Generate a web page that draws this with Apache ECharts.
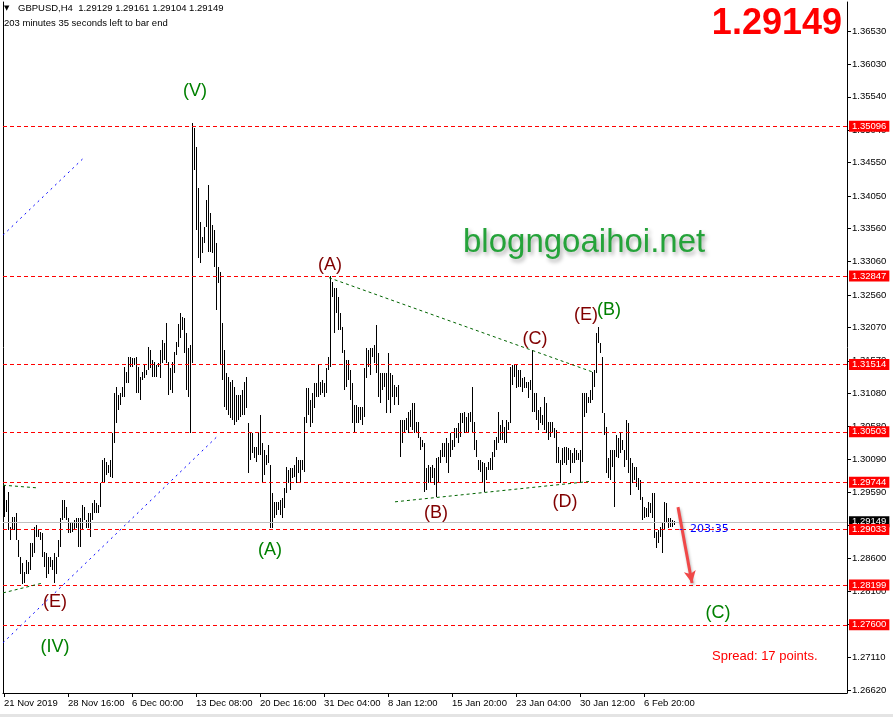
<!DOCTYPE html>
<html><head><meta charset="utf-8">
<script src="https://cdn.jsdelivr.net/npm/echarts@6/dist/echarts.min.js"></script>
<style>html,body{margin:0;padding:0;background:#fff}#c{width:893px;height:717px}</style>
</head><body><div id="c"></div>
<script>
// ---- data (GBPUSD H4) ----
const highs = [
1.2970,1.2948,1.2960,1.2907,1.2922,1.2922,1.2928,1.2888,1.2862,1.2853,
1.2839,1.2858,1.2855,1.2883,1.2883,1.2907,1.2910,1.2903,1.2900,1.2898,
1.2870,1.2868,1.2862,1.2862,1.2858,1.2868,1.2862,1.2888,1.2921,1.2948,
1.2948,1.2937,1.2921,1.2915,1.2913,1.2918,1.2921,1.2921,1.2921,1.2940,
1.2937,1.2918,1.2928,1.2928,1.2943,1.2948,1.2943,1.2940,1.2973,1.3008,
1.3011,1.3005,1.3000,1.3008,1.3049,1.3109,1.3118,1.3106,1.3109,1.3118,
1.3148,1.3140,1.3163,1.3163,1.3161,1.3161,1.3163,1.3148,1.3133,1.3140,
1.3151,1.3143,1.3178,1.3173,1.3158,1.3155,1.3151,1.3154,1.3173,1.3188,
1.3184,1.3214,1.3155,1.3146,1.3155,1.3170,1.3185,1.3212,1.3229,1.3223,
1.3222,1.3199,1.3176,1.3181,1.3515,1.3507,1.3479,1.3417,1.3366,1.3343,
1.3358,1.3399,1.3421,1.3379,1.3361,1.3354,1.3334,1.3298,1.3291,1.3214,
1.3173,1.3139,1.3133,1.3125,1.3128,1.3118,1.3106,1.3106,1.3106,1.3113,
1.3125,1.3133,1.3064,1.3049,1.3049,1.3027,1.3027,1.3050,1.3076,1.3033,
1.3023,1.3015,1.3030,1.3000,1.2958,1.2945,1.2945,1.2945,1.2948,1.2951,
1.2966,1.2997,1.2993,1.2996,1.2996,1.3000,1.3012,1.3008,1.3008,1.3008,
1.3073,1.3116,1.3116,1.3098,1.3109,1.3124,1.3124,1.3151,1.3125,1.3128,
1.3124,1.3146,1.3163,1.3284,1.3276,1.3267,1.3267,1.3253,1.3229,1.3208,
1.3173,1.3158,1.3158,1.3143,1.3124,1.3091,1.3091,1.3088,1.3088,1.3088,
1.3146,1.3176,1.3173,1.3176,1.3176,1.3181,1.3211,1.3169,1.3139,1.3139,
1.3139,1.3139,1.3169,1.3139,1.3136,1.3121,1.3118,1.3121,1.3068,1.3068,
1.3068,1.3071,1.3080,1.3083,1.3094,1.3094,1.3065,1.3065,1.3043,1.3038,
1.3033,1.2996,1.3000,1.2997,1.3000,1.2996,1.3011,1.3012,1.3023,1.3033,
1.3033,1.3041,1.3033,1.3049,1.3038,1.3056,1.3056,1.3064,1.3079,1.3079,
1.3080,1.3073,1.3079,1.3080,1.3118,1.3065,1.3038,1.3008,1.3008,1.3005,
1.3003,1.2997,1.3005,1.3011,1.3020,1.3038,1.3043,1.3080,1.3061,1.3068,
1.3058,1.3068,1.3065,1.3148,1.3151,1.3151,1.3151,1.3143,1.3143,1.3131,
1.3133,1.3125,1.3125,1.3128,1.3173,1.3109,1.3109,1.3083,1.3088,1.3076,
1.3103,1.3094,1.3065,1.3065,1.3065,1.3056,1.3053,1.3027,1.3008,1.3026,
1.3027,1.3027,1.3026,1.3023,1.3018,1.3026,1.3023,1.3018,1.3023,1.3109,
1.3109,1.3109,1.3103,1.3113,1.3140,1.3143,1.3199,1.3208,1.3184,1.3163,
1.3079,1.3058,1.3011,1.3023,1.3023,1.3023,1.3046,1.3041,1.3049,1.3038,
1.3023,1.3068,1.3064,1.3011,1.3003,1.2997,1.2997,1.2981,1.2978,1.2952,
1.2937,1.2936,1.2945,1.2943,1.2958,1.2958,1.2900,1.2903,1.2907,1.2913,
1.2945,1.2943,1.2921,1.2921,1.2918,1.29161];
const lows = [
1.2922,1.2930,1.2903,1.2888,1.2903,1.2903,1.2888,1.2862,1.2837,1.2822,
1.2823,1.2837,1.2837,1.2842,1.2862,1.2868,1.2892,1.2892,1.2888,1.2862,
1.2847,1.2831,1.2837,1.2847,1.2842,1.2823,1.2837,1.2862,1.2877,1.2918,
1.2921,1.2918,1.2898,1.2898,1.2900,1.2903,1.2905,1.2877,1.2877,1.2903,
1.2918,1.2905,1.2905,1.2892,1.2918,1.2928,1.2928,1.2928,1.2937,1.2973,
1.2973,1.2985,1.2988,1.2982,1.2981,1.3033,1.3064,1.3083,1.3091,1.3103,
1.3103,1.3124,1.3124,1.3148,1.3148,1.3151,1.3109,1.3109,1.3098,1.3128,
1.3131,1.3136,1.3143,1.3146,1.3133,1.3133,1.3133,1.3148,1.3131,1.3154,
1.3158,1.3154,1.3106,1.3113,1.3109,1.3139,1.3166,1.3178,1.3191,1.3203,
1.3169,1.3113,1.3103,1.3049,1.3154,1.3444,1.3354,1.3312,1.3304,1.3319,
1.3334,1.3358,1.3321,1.3321,1.3319,1.3298,1.3234,1.3274,1.3151,1.3128,
1.3088,1.3083,1.3076,1.3071,1.3068,1.3061,1.3065,1.3068,1.3073,1.3076,
1.3076,1.3086,1.2988,1.3008,1.3018,1.3011,1.3005,1.3015,1.3015,1.2975,
1.2985,1.3000,1.3003,1.2905,1.2905,1.2921,1.2925,1.2933,1.2925,1.2921,
1.2936,1.2958,1.2973,1.2963,1.2981,1.2982,1.2973,1.2988,1.2973,1.2993,
1.2990,1.3064,1.3076,1.3058,1.3064,1.3086,1.3103,1.3103,1.3106,1.3109,
1.3103,1.3109,1.3143,1.3148,1.3253,1.3199,1.3229,1.3203,1.3203,1.3169,
1.3113,1.3118,1.3128,1.3098,1.3064,1.3050,1.3064,1.3064,1.3068,1.3061,
1.3073,1.3131,1.3148,1.3136,1.3163,1.3154,1.3139,1.3103,1.3094,1.3113,
1.3118,1.3079,1.3098,1.3079,1.3103,1.3091,1.3103,1.3091,1.3012,1.3033,
1.3050,1.3053,1.3049,1.3058,1.3053,1.3049,1.3049,1.3041,1.3023,1.3027,
1.2960,1.2963,1.2973,1.2973,1.2981,1.2970,1.2952,1.2973,1.3003,1.3012,
1.3012,1.3003,1.2988,1.3012,1.3023,1.3027,1.3041,1.3033,1.3043,1.3064,
1.3049,1.3049,1.3049,1.3065,1.3049,1.3023,1.3012,1.2993,1.2990,1.2973,
1.2960,1.2978,1.2993,1.2993,1.2993,1.3012,1.3023,1.3033,1.3038,1.3038,
1.3033,1.3033,1.3053,1.3064,1.3121,1.3133,1.3116,1.3118,1.3118,1.3110,
1.3116,1.3116,1.3101,1.3113,1.3080,1.3080,1.3068,1.3053,1.3064,1.3061,
1.3053,1.3049,1.3038,1.3043,1.3049,1.3041,1.3003,1.3003,1.2973,1.3000,
1.3003,1.3000,1.3008,1.2988,1.3003,1.3003,1.3008,1.3008,1.2975,1.3005,
1.3073,1.3079,1.3094,1.3094,1.3098,1.3118,1.3139,1.3184,1.3169,1.3079,
1.3046,1.2988,1.2981,1.2978,1.2997,1.2937,1.3012,1.3011,1.3018,1.3023,
1.2997,1.3008,1.2988,1.2955,1.2973,1.2978,1.2967,1.2963,1.2948,1.2918,
1.2921,1.2922,1.2922,1.2928,1.2921,1.2891,1.2875,1.2883,1.2892,1.2868,
1.2903,1.2913,1.2905,1.2907,1.2907,1.29104];
const dateLabels = ['21 Nov 2019','28 Nov 16:00','6 Dec 00:00','13 Dec 08:00','20 Dec 16:00',
  '31 Dec 04:00','8 Jan 12:00','15 Jan 20:00','23 Jan 04:00','30 Jan 12:00','6 Feb 20:00'];
const barsPerDateLabel = 32;
const priceTicks = [1.2662,1.2711,1.2761,1.2810,1.2860,1.2910,1.2959,1.3009,1.3058,1.3108,
  1.3157,1.3207,1.3256,1.3306,1.3356,1.3405,1.3455,1.3504,1.3554,1.3603,1.3653];
const levels = [1.35096,1.32847,1.31514,1.30503,1.29744,1.29033,1.28199,1.27600];
const currentBar = [1.29129,1.29161,1.29104,1.29149]; // O H L C
const symbolName = 'GBPUSD,H4';
const timerText = '203:35';
const spreadPoints = 17;

// annotation anchors (bar index, price)
const waveLabels = [
  ['(V)',95.5,1.3563,'g'],['(A)',163,1.3301,'r'],['(C)',265.5,1.3190,'r'],
  ['(E)',291,1.3226,'r'],['(B)',302.5,1.3233,'g'],['(B)',216,1.2928,'r'],
  ['(D)',280.5,1.2945,'r'],['(A)',133,1.2872,'g'],['(E)',25.5,1.2794,'r'],
  ['(IV)',25.5,1.2727,'g'],['(C)',357,1.2778,'g']];
const trendLines = [
  {a:[162.5,1.3282],b:[294.5,1.3140],kind:'green'},
  {a:[195.5,1.2945],b:[294,1.2976],kind:'green'},
  {a:[-0.5,1.2970],b:[16.5,1.2966],kind:'green'},
  {a:[-0.5,1.2808],b:[19.5,1.2823],kind:'green'},
  {a:[-0.5,1.3346],b:[40.5,1.3464],kind:'blue'},
  {a:[-0.5,1.2733],b:[106.5,1.3043],kind:'blue'},
  {a:[337,1.2937],b:[344,1.2823],kind:'arrow'}];

// ---- chart ----
const yMin = 1.26575, yMax = 1.36966;
const FONT = '"Liberation Sans","DejaVu Sans",Arial,sans-serif';
const tickIdx = dateLabels.map((_, k) => k * barsPerDateLabel);
const barData = highs.map((h, i) => [i, lows[i], h]);

const ml = [];
ml.push({yAxis: currentBar[3], lineStyle:{color:'#c0c0c0', type:'solid', width:1},
  label:{show:true, position:'end', distance:2, formatter: currentBar[3].toFixed(5),
    backgroundColor:'#000', color:'#fff', padding:[1,3,0,3], fontSize:9.5, fontFamily:FONT}});
levels.forEach(v => ml.push({yAxis: v, lineStyle:{color:'#ff0000', type:[4,3], width:1},
  label:{show:true, position:'end', distance:2, formatter: v.toFixed(5),
    backgroundColor:'#ff0000', color:'#fff', padding:[1,3,0,3], fontSize:9.5, fontFamily:FONT}}));
trendLines.forEach(t => {
  let ls;
  if (t.kind === 'green') ls = {color:'#006400', type:[3,3], width:1};
  else if (t.kind === 'blue') ls = {color:'#0000ff', type:[2,4], width:1};
  else ls = {color:'#f04848', type:'solid', width:3, shadowBlur:3, shadowColor:'rgba(0,0,0,0.3)', shadowOffsetX:1, shadowOffsetY:2};
  ml.push([
    {coord:t.a, symbol:'none', lineStyle:ls, label:{show:false}},
    {coord:t.b, symbol: t.kind === 'arrow' ? 'arrow' : 'none', symbolSize:[9,12]}
  ]);
});

const chart = echarts.init(document.getElementById('c'), null, {renderer:'canvas'});
chart.setOption({
  animation:false,
  backgroundColor:'#fff',
  grid:{left:3, right:46, top:2, bottom:24},
  xAxis:{type:'value', min:-0.5, max:421.5,
    axisLine:{onZero:false, lineStyle:{color:'#000', width:1}},
    axisTick:{show:true, customValues:tickIdx, length:4, lineStyle:{color:'#000'}},
    axisLabel:{customValues:tickIdx, formatter:v => dateLabels[Math.round(v / barsPerDateLabel)],
      align:'left', margin:5, color:'#000', fontSize:9.5, fontFamily:FONT},
    splitLine:{show:false}},
  yAxis:[
    {type:'value', position:'right', min:yMin, max:yMax,
      axisLine:{show:true, onZero:false, lineStyle:{color:'#000'}},
      axisTick:{show:true, customValues:priceTicks, length:4, lineStyle:{color:'#000'}},
      axisLabel:{customValues:priceTicks, formatter:v => v.toFixed(5), margin:5,
        color:'#000', fontSize:9.5, fontFamily:FONT},
      splitLine:{show:false}},
    {type:'value', position:'left', min:yMin, max:yMax,
      axisLine:{show:true, onZero:false, lineStyle:{color:'#000'}},
      axisTick:{show:false}, axisLabel:{show:false}, splitLine:{show:false}}
  ],
  series:[
    {type:'line', data:[], silent:true,
      markLine:{silent:true, precision:5, symbol:['none','none'], animation:false, data: ml}},
    {type:'custom', data:barData, encode:{x:0, y:[1,2]}, silent:true,
      renderItem(params, api){
        const i = api.value(0);
        const top = api.coord([i, api.value(2)]);
        const bot = api.coord([i, api.value(1)]);
        const x = Math.round(top[0] - 0.5);
        const y1 = Math.round(top[1]);
        const y2 = Math.round(bot[1]);
        return {type:'rect', shape:{x:x, y:y1, width:1, height:Math.max(1, y2 - y1)}, style:{fill:'#000'}};
      }},
    {type:'custom', data: waveLabels.map(w => [w[1], w[2]]), encode:{x:0, y:1}, silent:true, z:5,
      renderItem(params, api){
        const w = waveLabels[params.dataIndex];
        const p = api.coord([api.value(0), api.value(1)]);
        return {type:'text', x:p[0], y:p[1], style:{text:w[0], fill: w[3] === 'g' ? '#008000' : '#800000',
          font:'18px ' + FONT, align:'center', verticalAlign:'middle', textAlign:'center', textVerticalAlign:'middle'}};
      }},
    {type:'custom', data:[[337.5, 1.2904]], encode:{x:0, y:1}, silent:true, z:5,
      renderItem(params, api){
        const p = api.coord([api.value(0), api.value(1)]);
        return {type:'text', x:p[0], y:p[1], style:{text:'-  ' + timerText, fill:'#0000ff',
          font:'11px "DejaVu Sans",sans-serif', align:'left', verticalAlign:'middle', textAlign:'left', textVerticalAlign:'middle'}};
      }}
  ],
  graphic:[
    {type:'text', x:4, y:8, silent:true, style:{text:'\u25BC', fill:'#000', font:'7px "DejaVu Sans"', align:'left', verticalAlign:'middle', textAlign:'left', textVerticalAlign:'middle'}},
    {type:'text', x:18, y:8, silent:true, style:{text: symbolName + '  ' + currentBar.map(v => v.toFixed(5)).join(' '),
      fill:'#000', font:'9.5px ' + FONT, align:'left', verticalAlign:'middle', textAlign:'left', textVerticalAlign:'middle'}},
    {type:'text', x:4, y:23, silent:true, style:{text: timerText.split(':')[0] + ' minutes ' + timerText.split(':')[1] + ' seconds left to bar end',
      fill:'#000', font:'9.5px ' + FONT, align:'left', verticalAlign:'middle', textAlign:'left', textVerticalAlign:'middle'}},
    {type:'text', x:842, y:24, silent:true, z:10, style:{text: currentBar[3].toFixed(5), fill:'#ff0000',
      font:'bold 36px ' + FONT, align:'right', verticalAlign:'middle', textAlign:'right', textVerticalAlign:'middle'}},
    {type:'text', x:463, y:243, silent:true, z:10, style:{text:'blogngoaihoi.net', fill:'#25a33a',
      font:'33px ' + FONT, align:'left', verticalAlign:'middle', textAlign:'left', textVerticalAlign:'middle',
      shadowColor:'rgba(0,0,0,0.35)', shadowBlur:4, shadowOffsetX:2, shadowOffsetY:3,
      textShadowColor:'rgba(0,0,0,0.35)', textShadowBlur:4, textShadowOffsetX:2, textShadowOffsetY:3}},
    {type:'text', x:712, y:656, silent:true, style:{text:'Spread: ' + spreadPoints + ' points.', fill:'#ff0000',
      font:'13px ' + FONT, align:'left', verticalAlign:'middle', textAlign:'left', textVerticalAlign:'middle'}},
    {type:'rect', silent:true, shape:{x:0, y:714, width:893, height:3}, style:{fill:'#e4e4e4'}}
  ]
});
</script>
</body></html>
